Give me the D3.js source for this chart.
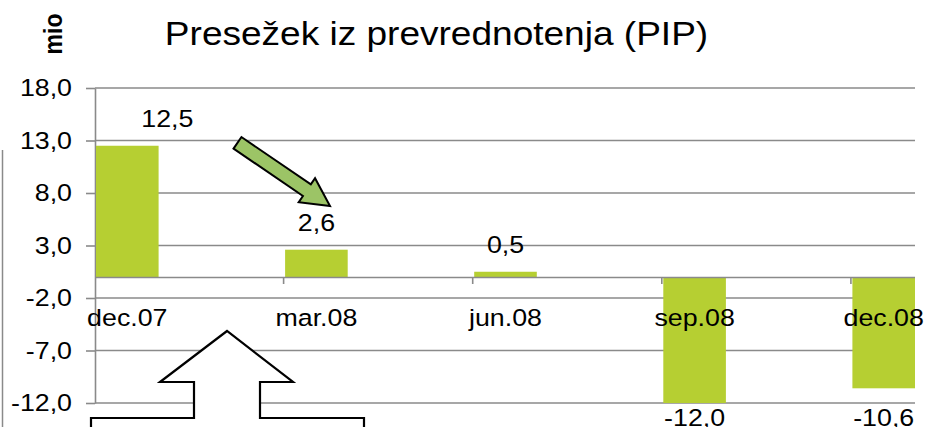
<!DOCTYPE html>
<html>
<head>
<meta charset="utf-8">
<script src="https://cdn.jsdelivr.net/npm/d3@7"></script>
<style>
  body { margin: 0; background: #fff; }
  text { font-family: "Liberation Sans", Arial, sans-serif; fill: #000; }
</style>
</head>
<body>
<div id="chart"></div>
<script>
// data
const categories = ["dec.07", "mar.08", "jun.08", "sep.08", "dec.08"];
const values = [12.5, 2.6, 0.5, -12.0, -10.6];
const yTicks = [18, 13, 8, 3, -2, -7, -12];
const title = "Presežek iz prevrednotenja (PIP)";
const unitLabel = "mio";

// constants
const width = 926;
const height = 427;
const plot = {left: 95, right: 915, top: 88, bottom: 403};
const sx = 1.14; // text in the picture is stretched a bit horizontally
const barColor = "#b6cf32";
const gridColor = "#8a8a8a";
const fontSize = 23.5;

const fmt = d3.formatLocale({decimal: ",", thousands: ".", grouping: [3], currency: ["", ""], minus: "-"}).format(".1f");

const svg = d3.select("#chart").append("svg")
    .attr("width", width)
    .attr("height", height);

svg.append("rect")
    .attr("width", width)
    .attr("height", height)
    .style("fill", "#fff");

const y = d3.scaleLinear()
    .domain([d3.min(yTicks), d3.max(yTicks)])
    .range([plot.bottom, plot.top]);

const x = d3.scaleBand()
    .domain(categories)
    .range([plot.left + 1, plot.right])
    .paddingInner(0.669)
    .paddingOuter(0)
    .align(0);

// gridlines
svg.append("g")
    .selectAll("line")
    .data(yTicks)
    .enter()
    .append("line")
    .attr("x1", plot.left)
    .attr("x2", plot.right)
    .attr("y1", d => y(d))
    .attr("y2", d => y(d))
    .style("stroke", gridColor)
    .style("stroke-width", 1.6);

// left axis
const yAxis = d3.axisLeft(y)
    .tickValues(yTicks)
    .tickSize(9)
    .tickSizeOuter(0)
    .tickFormat(fmt);

const gy = svg.append("g")
    .attr("transform", "translate(" + plot.left + ",0)")
    .call(yAxis);
gy.select(".domain").style("stroke", gridColor).style("stroke-width", 1.6);
gy.selectAll(".tick line").style("stroke", gridColor).style("stroke-width", 1.6);
gy.selectAll(".tick text")
    .attr("x", -23 / sx)
    .attr("transform", "scale(" + sx + ",1)")
    .style("font-size", fontSize + "px")
    .style("font-family", "'Liberation Sans', Arial, sans-serif")
    .style("fill", "#000");

// bars
svg.append("g")
    .selectAll("rect")
    .data(values)
    .enter()
    .append("rect")
    .attr("x", (d, i) => x(categories[i]))
    .attr("width", x.bandwidth())
    .attr("y", d => y(Math.max(0, d)))
    .attr("height", d => Math.abs(y(d) - y(0)))
    .style("fill", barColor);

// category axis
svg.append("line")
    .attr("x1", plot.left)
    .attr("x2", plot.right)
    .attr("y1", y(0) + 0.5)
    .attr("y2", y(0) + 0.5)
    .style("stroke", gridColor)
    .style("stroke-width", 1.6);

svg.append("g")
    .selectAll("line")
    .data(categories.slice(1))
    .enter()
    .append("line")
    .attr("x1", d => x(d) - 1.5)
    .attr("x2", d => x(d) - 1.5)
    .attr("y1", y(0))
    .attr("y2", y(0) + 7)
    .style("stroke", gridColor)
    .style("stroke-width", 1.6);

svg.append("g")
    .selectAll("text")
    .data(categories)
    .enter()
    .append("text")
    .attr("transform", d => "translate(" + (x(d) + x.bandwidth() / 2) + "," + 326 + ") scale(" + sx + ",1)")
    .attr("text-anchor", "middle")
    .style("font-size", fontSize + "px")
    .text(d => d);

// data labels
const labelShift = [40, 0, 0, 0, 0];
svg.append("g")
    .selectAll("text")
    .data(values)
    .enter()
    .append("text")
    .attr("transform", (d, i) => {
        const cx = x(categories[i]) + x.bandwidth() / 2 + labelShift[i];
        const cy = d >= 0 ? y(d) - 19 : plot.bottom + 23;
        return "translate(" + cx + "," + cy + ") scale(" + sx + ",1)";
    })
    .attr("text-anchor", "middle")
    .style("font-size", fontSize + "px")
    .text(d => fmt(d));

// title and unit
svg.append("text")
    .attr("transform", "translate(436.5,45) scale(" + sx + ",1)")
    .attr("text-anchor", "middle")
    .style("font-size", "32.5px")
    .text(title);

svg.append("text")
    .attr("transform", "translate(61.5,34) scale(" + sx + ",1) rotate(-90)")
    .attr("text-anchor", "middle")
    .style("font-size", "23px")
    .style("font-weight", "bold")
    .text(unitLabel);

// stray frame line at the left edge
svg.append("line")
    .attr("x1", 2.5).attr("x2", 2.5)
    .attr("y1", 150).attr("y2", height)
    .style("stroke", gridColor)
    .style("stroke-width", 1.5);

// green arrow pointing at the mar.08 bar
function blockArrow(tail, tip, w, h, hl) {
    const dx = tip[0] - tail[0], dy = tip[1] - tail[1];
    const len = Math.hypot(dx, dy);
    const u = [dx / len, dy / len], n = [-u[1], u[0]];
    const neck = [tip[0] - u[0] * hl, tip[1] - u[1] * hl];
    const p = (o, k) => [o[0] + n[0] * k, o[1] + n[1] * k];
    return [p(tail, w), p(neck, w), p(neck, h), tip, p(neck, -h), p(neck, -w), p(tail, -w)];
}

svg.append("path")
    .attr("d", d3.line()(blockArrow([237.5, 142.8], [330, 206], 7, 14.5, 28)) + "Z")
    .style("fill", "#9cc466")
    .style("stroke", "#000")
    .style("stroke-width", 2)
    .style("stroke-linejoin", "miter");

// white up-arrow callout at the bottom
const callout = [[91, 432], [91, 418], [194, 418], [194, 382], [160, 382], [227, 331],
    [293, 382], [260, 382], [260, 418], [364, 418], [364, 432]];
svg.append("path")
    .attr("d", d3.line()(callout) + "Z")
    .style("fill", "#fff")
    .style("stroke", "#000")
    .style("stroke-width", 2.2)
    .style("stroke-linejoin", "miter");
</script>
</body>
</html>
